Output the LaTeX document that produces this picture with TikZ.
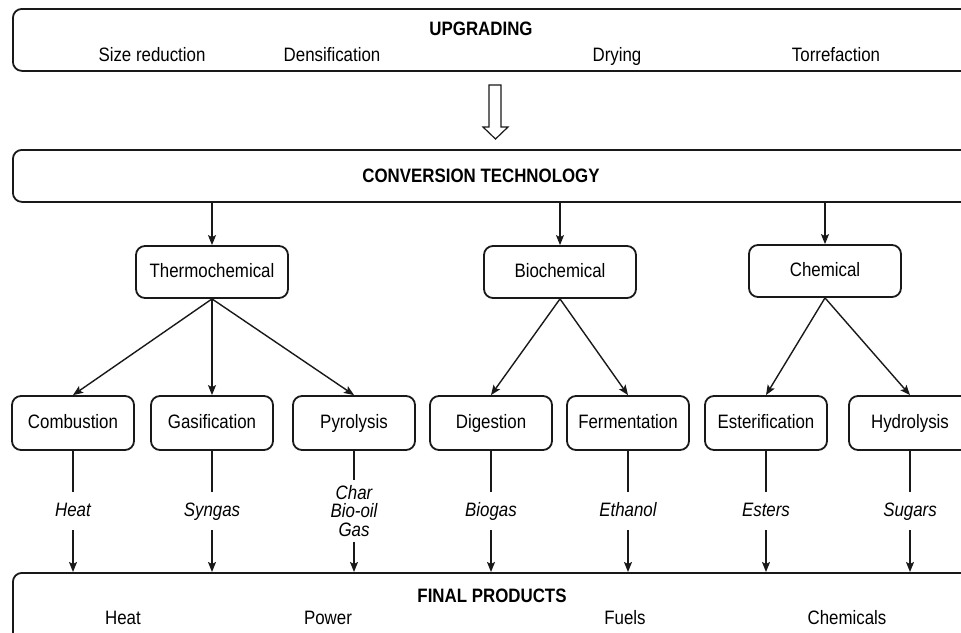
\documentclass[tikz,border=0pt]{standalone}
\usepackage{fontspec}
\setmainfont{Liberation Sans}[FakeStretch=0.87]
\usetikzlibrary{arrows.meta}

\newcommand{\dgfont}{\fontsize{19.4}{23}\selectfont}
\newcommand{\prodfont}{\fontsize{19.4}{18.5}\selectfont\itshape}

\begin{document}
\begin{tikzpicture}
  [x=1pt, y=-1pt,
  bar/.style={rectangle, draw=black!90, line width=1.8pt, rounded corners=9pt,
  minimum width=970pt, anchor=north west},
  block/.style={rectangle, draw=black!90, line width=1.8pt, rounded corners=9pt,
  minimum width=152pt, minimum height=52pt, font=\dgfont,
  text height=14pt, text depth=4pt},
  proc/.style={block, minimum width=122pt, minimum height=54pt},
  title/.style={font=\dgfont\bfseries, inner sep=0pt, anchor=base},
  item/.style={font=\dgfont, inner sep=0pt, anchor=base},
  prod/.style={font=\prodfont, align=center, inner sep=0pt, minimum height=38pt,
  text height=14pt, text depth=4pt},
  line/.style={draw=black!90, line width=1.4pt, -{Stealth[length=10pt, width=8pt, inset=2pt]}},
  link/.style={draw=black!90, line width=1.4pt}]

  \useasboundingbox (0,0) rectangle (961,632);
  \clip (0,0) rectangle (961,632);

  % upgrading
  \node [bar, minimum height=62pt] (upgrade) at (12,8) {};
  \node [title] (uptitle) at (481,35) {UPGRADING};
  \node [item] (size) at (152,61) {Size reduction};
  \node [item] (dens) at (332,61) {Densification};
  \node [item] (dry) at (617,61) {Drying};
  \node [item] (torr) at (836,61) {Torrefaction};

  % hollow arrow
  \draw [draw=black!90, line width=1.2pt, line join=miter]
    (489,85) -- (501,85) -- (501,127) -- (508,127) -- (495.5,139)
    -- (483,127) -- (489,127) -- cycle;

  % conversion
  \node [bar, minimum height=52pt] (conv) at (12,149) {};
  \node [title] (convtitle) at (481,182) {CONVERSION TECHNOLOGY};

  \node [block] (thermo) at (212,272) {Thermochemical};
  \node [block] (bio) at (560,272) {Biochemical};
  \node [block] (chem) at (825,271) {Chemical};

  \node [proc] (comb) at (73,423) {Combustion};
  \node [proc] (gasif) at (212,423) {Gasification};
  \node [proc] (pyro) at (354,423) {Pyrolysis};
  \node [proc] (dig) at (491,423) {Digestion};
  \node [proc] (ferm) at (628,423) {Fermentation};
  \node [proc] (ester) at (766,423) {Esterification};
  \node [proc] (hydro) at (910,423) {Hydrolysis};

  \node [prod] (heat) at (73,511) {Heat};
  \node [prod] (syngas) at (212,511) {Syngas};
  \node [prod, minimum height=62pt, text height=, text depth=] (pyrprod) at (354,511) {Char\\Bio-oil\\Gas};
  \node [prod] (biogas) at (491,511) {Biogas};
  \node [prod] (ethanol) at (628,511) {Ethanol};
  \node [prod] (esters) at (766,511) {Esters};
  \node [prod] (sugars) at (910,511) {Sugars};

  % final products
  \node [bar, minimum height=100pt] (final) at (12,572) {};
  \node [title] (fintitle) at (492,602) {FINAL PRODUCTS};
  \node [item] (fheat) at (123,624) {Heat};
  \node [item] (fpower) at (328,624) {Power};
  \node [item] (ffuels) at (625,624) {Fuels};
  \node [item] (fchem) at (847,624) {Chemicals};

  \begin{scope}[every path/.style=line]
    \path (thermo |- conv.south) -- (thermo);
    \path (bio |- conv.south) -- (bio);
    \path (chem |- conv.south) -- (chem);
    \path (thermo.south) -- (comb.north);
    \path (thermo.south) -- (gasif.north);
    \path (thermo.south) -- (pyro.north);
    \path (bio.south) -- (dig.north);
    \path (bio.south) -- (ferm.north);
    \path (chem.south) -- (ester.north);
    \path (chem.south) -- (hydro.north);
  \end{scope}

  \foreach \p/\q in {comb/heat, gasif/syngas, pyro/pyrprod, dig/biogas,
                     ferm/ethanol, ester/esters, hydro/sugars} {
    \draw [link] (\p) -- (\q);
    \draw [line] (\q) -- (\q |- final.north);
  }
\end{tikzpicture}
\end{document}
